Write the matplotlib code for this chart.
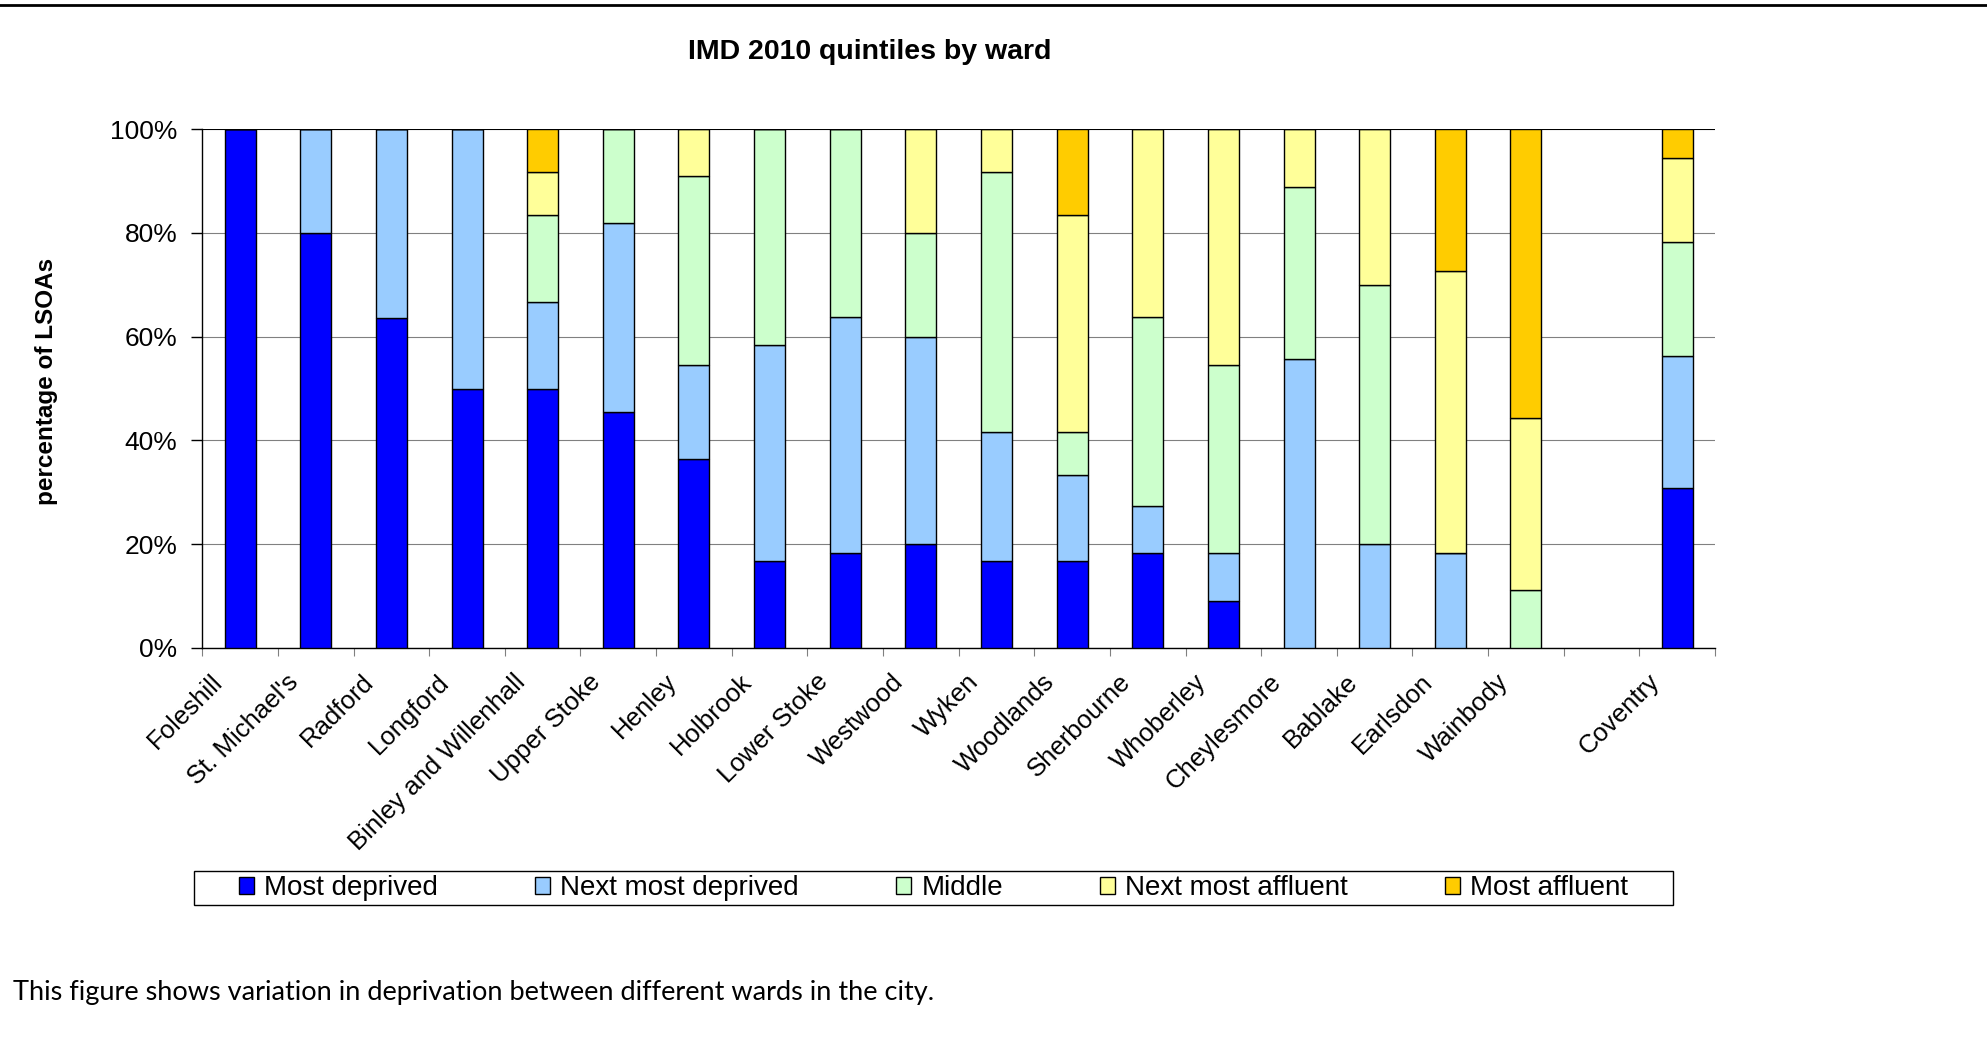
import matplotlib
matplotlib.use("Agg")
import matplotlib.pyplot as plt
from matplotlib.lines import Line2D
from matplotlib.patches import Rectangle
import numpy as np

plt.rcParams["font.family"] = ["Liberation Sans", "DejaVu Sans"]

# ward order as in the chart, with a blank slot before the city total
wards = ["Foleshill", "St. Michael's", "Radford", "Longford", "Binley and Willenhall",
         "Upper Stoke", "Henley", "Holbrook", "Lower Stoke", "Westwood", "Wyken",
         "Woodlands", "Sherbourne", "Whoberley", "Cheylesmore", "Bablake", "Earlsdon",
         "Wainbody", "", "Coventry"]

# percentage of LSOAs in each IMD 2010 quintile (None = empty slot)
most_deprived = [100, 80, 63.6, 50, 50, 45.5, 36.4, 16.7, 18.2, 20, 16.7,
                 16.7, 18.2, 9.1, 0, 0, 0, 0, None, 30.9]
next_most_deprived = [0, 20, 36.4, 50, 16.7, 36.4, 18.2, 41.7, 45.5, 40, 25,
                      16.7, 9.1, 9.1, 55.6, 20, 18.2, 0, None, 25.4]
middle = [0, 0, 0, 0, 16.7, 18.2, 36.4, 41.7, 36.4, 20, 50,
          8.3, 36.4, 36.4, 33.3, 50, 0, 11.1, None, 21.9]
next_most_affluent = [0, 0, 0, 0, 8.3, 0, 9.1, 0, 0, 20, 8.3,
                      41.7, 36.4, 45.5, 11.1, 30, 54.5, 33.3, None, 16.2]
most_affluent = [0, 0, 0, 0, 8.3, 0, 0, 0, 0, 0, 0,
                 16.7, 0, 0, 0, 0, 27.3, 55.6, None, 5.6]

quintile_names = ["Most deprived", "Next most deprived", "Middle",
                  "Next most affluent", "Most affluent"]
quintile_colors = ["#0000FF", "#99CCFF", "#CCFFCC", "#FFFF99", "#FFCC00"]

W, H = 1987, 1049
fig = plt.figure(figsize=(W / 100, H / 100), dpi=100)

# thick rule at the top of the page
fig.add_artist(Line2D([0, 1], [1 - 5 / H, 1 - 5 / H], transform=fig.transFigure,
                      color="black", lw=2))

ax = fig.add_axes([202.3 / W, 1 - 647.7 / H, (1715 - 202.3) / W, (647.7 - 129.3) / H])

x = np.arange(len(wards))
bottom = np.zeros(len(wards))
series = [most_deprived, next_most_deprived, middle, next_most_affluent, most_affluent]
for name, vals, col in zip(quintile_names, series, quintile_colors):
    vals = np.array([np.nan if v is None else v for v in vals], dtype=float)
    ax.bar(x, vals, 0.41, bottom=bottom, color=col, edgecolor="black",
           linewidth=1.0, label=name, zorder=3)
    bottom += vals

ax.set_xlim(-0.5, len(wards) - 0.5)
ax.set_ylim(0, 100)
ax.set_yticks(range(0, 101, 20))
ax.set_yticklabels([f"{v}%" for v in range(0, 101, 20)])
ax.yaxis.grid(True, color="#808080", lw=0.8)
ax.set_axisbelow(True)
ax.get_ygridlines()[-1].set_color("black")

# tick marks sit between categories; labels hang from just left of each bar
ax.set_xticks(np.arange(len(wards) + 1) - 0.5)
ax.set_xticklabels([])
ax.set_xticks(x - 0.28, minor=True)
ax.set_xticklabels(wards, minor=True, rotation=45, ha="right", va="center",
                   rotation_mode="anchor", fontsize=18.5)

ax.tick_params(axis="x", which="major", length=6, color="#808080", direction="out")
ax.tick_params(axis="x", which="minor", length=0, pad=22)
ax.tick_params(axis="y", length=8, width=1, pad=10, labelsize=19)

for side in ["top", "right"]:
    ax.spines[side].set_visible(False)
for side in ["left", "bottom"]:
    ax.spines[side].set_color("black")
    ax.spines[side].set_linewidth(1)

fig.text(870 / W, 1 - 59.3 / H, "IMD 2010 quintiles by ward", ha="center",
         va="baseline", fontsize=20.5, fontweight="bold")
fig.text(47 / W, 1 - 381 / H, "percentage of LSOAs", rotation=90, ha="center",
         va="center", fontsize=17.5, fontweight="bold")

# legend box drawn separately so its padding matches the original
fig.add_artist(Rectangle((194.3 / W, 1 - 905 / H), 1478.7 / W, 34.3 / H,
                         transform=fig.transFigure, facecolor="white",
                         edgecolor="black", lw=1, zorder=1))
handles, labels = ax.get_legend_handles_labels()
leg = fig.legend(handles, labels, ncol=5, loc="center",
                 bbox_to_anchor=(933.7 / W, 1 - 888 / H), frameon=False,
                 fontsize=20, handlelength=0.52, handleheight=0.56,
                 handletextpad=0.38, columnspacing=3.5, borderpad=0)
leg.set_zorder(2)

fig.text(12.7 / W, 1 - 1000 / H,
         "This figure shows variation in deprivation between different wards in the city.",
         ha="left", va="baseline", fontsize=19.5, family=["Lato", "DejaVu Sans"])

fig.savefig("out.png", dpi=100)
